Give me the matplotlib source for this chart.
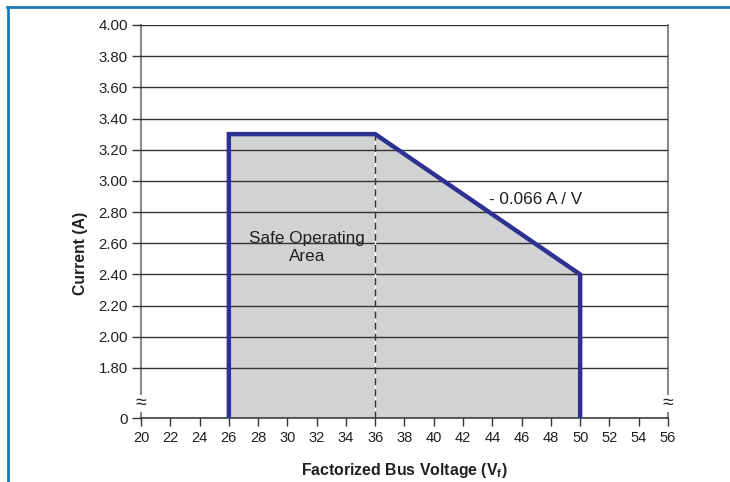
import matplotlib
matplotlib.use("Agg")
import matplotlib.pyplot as plt
from matplotlib.lines import Line2D
import numpy as np

plt.rcParams['font.family'] = ['Liberation Sans', 'DejaVu Sans']

# ---- data ----
soa_voltage = [26, 26, 36, 50, 50]
soa_current = [None, 3.30, 3.30, 2.40, None]   # None -> axis bottom ("0")
knee_voltage = 36
x_ticks = list(range(20, 57, 2))
y_ticks = [1.80, 2.00, 2.20, 2.40, 2.60, 2.80, 3.00, 3.20, 3.40, 3.60, 3.80, 4.00]
y_zero_pos = 1.479          # where the broken axis places "0"
slope_label = "- 0.066 A / V"
area_label = "Safe Operating\nArea"

W, H = 730, 482
fig = plt.figure(figsize=(W / 100, H / 100), dpi=100)
ax = fig.add_axes([141 / W, 1 - 418 / H, 527 / W, 393 / H])

ax.set_xlim(20, 56)
ax.set_ylim(y_zero_pos, 4.00)

ys = [y_zero_pos if v is None else v for v in soa_current]
ax.fill(soa_voltage, ys, color='#d1d2d4', zorder=1, lw=0)
ax.plot(soa_voltage, ys, color='#2e3192', lw=3.2, zorder=4,
        solid_joinstyle='miter', solid_capstyle='butt')

knee_i = soa_current[soa_voltage.index(knee_voltage)]
ax.plot([knee_voltage, knee_voltage], [y_zero_pos, knee_i], color='#333333',
        lw=1.0, ls=(0, (5, 3)), gapcolor='white', zorder=3)

ax.set_axisbelow(False)
ax.set_yticks([y_zero_pos] + y_ticks)
ax.set_yticklabels(['0'] + ['%.2f' % v for v in y_ticks])
ax.set_xticks(x_ticks)
ax.set_xticklabels([str(v) for v in x_ticks])
ax.grid(axis='y', color='#333333', lw=1.0, zorder=2)
ax.grid(axis='x', visible=False)

ax.tick_params(axis='y', length=6.5, width=1.0, color='#333333', pad=3,
               labelsize=10.8, labelcolor='#231f20')
ax.tick_params(axis='x', length=6, width=1.0, color='#333333', pad=3,
               labelsize=10.5, labelcolor='#231f20')

for s in ['left', 'right']:
    ax.spines[s].set_color('#8a8a8a')
    ax.spines[s].set_linewidth(1.5)
ax.spines['top'].set_visible(False)
ax.spines['bottom'].set_color('#333333')
ax.spines['bottom'].set_linewidth(1.1)

ax.text(31.35, 2.575, area_label, ha='center', va='center', fontsize=12.3,
        color='#231f20', linespacing=1.25, zorder=5)
ax.text(43.8, 2.88, slope_label, ha='left', va='center', fontsize=12.3,
        color='#231f20', zorder=5)

for xv in (20, 56):
    ax.text(xv, 1.575, '≈', ha='center', va='center', fontsize=14,
            color='#231f20', clip_on=False, zorder=6,
            bbox=dict(facecolor='white', edgecolor='none', pad=0.0))

ax.set_ylabel('Current (A)', fontsize=11.3, fontweight='bold', color='#231f20')
ax.yaxis.set_label_coords((88 - 141) / 527, (418 - 253) / 393)
ax.set_xlabel(r'Factorized Bus Voltage (V$_\mathregular{f}$)', fontsize=11.4,
              fontweight='bold', color='#231f20', labelpad=12)

frame_c = '#1b7db5'
fig.add_artist(Line2D([7 / W, 1], [1 - 6.5 / H, 1 - 6.5 / H], color=frame_c,
                      lw=2.0, transform=fig.transFigure))
fig.add_artist(Line2D([8 / W, 8 / W], [0, 1 - 6.5 / H], color=frame_c,
                      lw=2.0, transform=fig.transFigure))

fig.savefig('out.png', dpi=100)
